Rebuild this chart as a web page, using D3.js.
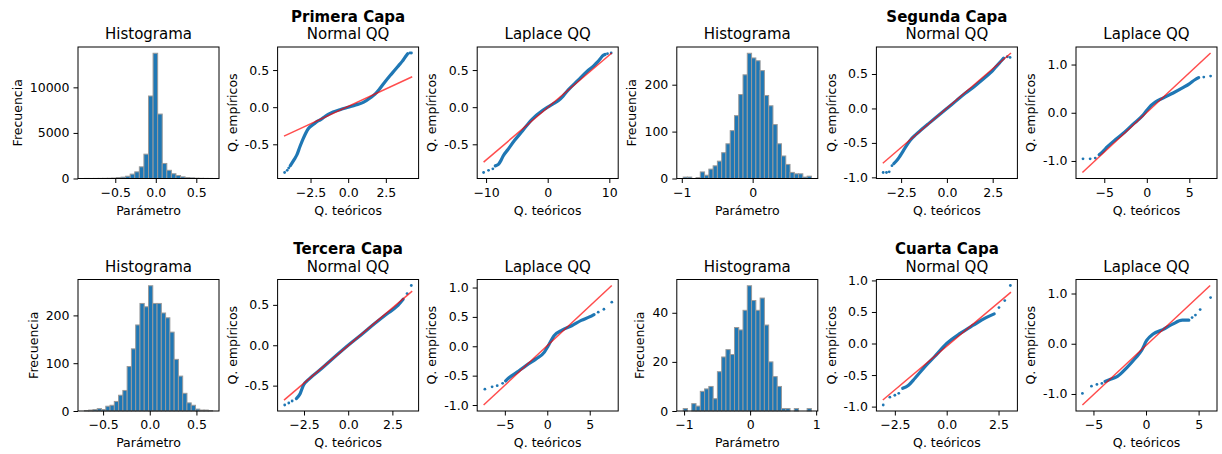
<!DOCTYPE html>
<html>
<head>
<meta charset="utf-8">
<title>Capas</title>
<script src="https://cdn.jsdelivr.net/npm/d3@7"></script>
<style>
  body { margin: 0; background: #fff; }
  text { font-family: "DejaVu Sans", sans-serif; fill: #000; }
</style>
</head>
<body>
<svg width="1222" height="454" id="mainSvg"></svg>
<script>
// ---- data ----
const layerNames = ["Primera Capa", "Segunda Capa", "Tercera Capa", "Cuarta Capa"];

// histograms: first bin edge, bin width, counts
const histStart = [-0.881, -0.98, -0.70, -1.013];
const histWidth = [0.0565, 0.0603, 0.04577, 0.0647];
const histCounts1 = [10, 5, 10, 15, 20, 30, 50, 100, 150, 250, 480, 730, 1280, 2670, 9050, 13740, 7070, 1650, 900, 520, 330, 180, 110, 70, 40, 25, 15, 10];
const histCounts2 = [3, 3, 0, 2, 14, 7, 20, 27, 37, 55, 74, 102, 134, 179, 221, 267, 257, 251, 230, 177, 155, 115, 74, 48, 30, 13, 10, 10, 3, 5];
const histCounts3 = [1, 2, 3, 5, 3, 10, 12, 20, 33, 43, 93, 130, 180, 225, 218, 262, 225, 225, 205, 195, 165, 108, 73, 37, 17, 12, 4, 2, 2, 1];
const histCounts4 = [1, 0, 3, 2, 8, 9, 10, 5, 16, 22, 25, 23, 34, 33, 41, 51, 45, 41, 46, 35, 20, 14, 10, 1, 1, 0, 1, 0, 0, 1];

// QQ plots: [theoretical, empirical]; "curve" = dense run of points, "dots" = isolated points
const normCurve1 = [[-3.85,-0.79],[-3.6,-0.71],[-3.4,-0.64],[-3.2,-0.53],[-3.0,-0.43],[-2.65,-0.29],[-2.3,-0.23],[-2.0,-0.185],[-1.8,-0.165],[-1.5,-0.12],[-1.0,-0.065],[-0.5,-0.03],[0,0],[0.5,0.03],[1.0,0.065],[1.5,0.13],[1.8,0.18],[2.1,0.25],[2.4,0.33],[2.8,0.43],[3.1,0.5],[3.35,0.56],[3.6,0.62],[3.8,0.68],[3.95,0.72]];
const normDots1 = [[-4.22,-0.88],[-4.05,-0.85],[-3.95,-0.82],[4.1,0.73],[4.2,0.73]];
const normFit1 = [[-4.26,-0.39],[4.25,0.41]];

const lapCurve1 = [[-8.5,-0.79],[-8.0,-0.77],[-7.6,-0.72],[-7.25,-0.66],[-6.45,-0.57],[-5.4,-0.45],[-4.1,-0.32],[-2.5,-0.16],[-0.9,-0.05],[0,0],[1.0,0.05],[1.75,0.09],[2.5,0.15],[3.3,0.23],[4.9,0.36],[6.5,0.49],[7.5,0.56],[8.1,0.61],[8.6,0.66],[8.9,0.69],[9.3,0.71]];
const lapDots1 = [[-10.4,-0.88],[-9.6,-0.85],[-8.9,-0.83],[9.7,0.72],[10.3,0.73]];
const lapFit1 = [[-10.4,-0.74],[10.4,0.73]];

const normCurve2 = [[-2.9,-0.80],[-2.75,-0.76],[-2.56,-0.69],[-2.3,-0.58],[-2.0,-0.46],[-1.7,-0.38],[-1.4,-0.31],[-1.0,-0.22],[-0.5,-0.11],[0,0],[0.5,0.11],[1.0,0.22],[1.5,0.32],[2.0,0.43],[2.3,0.5],[2.5,0.55],[2.7,0.61],[2.9,0.67],[3.1,0.73]];
const normDots2 = [[-3.48,-0.93],[-3.3,-0.93],[-3.15,-0.92],[-3.0,-0.83],[3.3,0.75],[3.45,0.74]];
const normFit2 = [[-3.5,-0.795],[3.5,0.805]];

const lapCurve2 = [[-5.6,-0.87],[-5.15,-0.80],[-4.66,-0.71],[-3.7,-0.56],[-2.58,-0.40],[-1.44,-0.21],[-0.5,-0.06],[0,0.05],[0.5,0.15],[1.0,0.22],[1.97,0.31],[3.1,0.41],[4.24,0.52],[5.0,0.60],[5.7,0.69],[6.1,0.73]];
const lapDots2 = [[-7.5,-0.955],[-6.66,-0.955],[-6.06,-0.94],[6.7,0.74],[7.5,0.76]];
const lapFit2 = [[-7.57,-1.24],[7.5,1.24]];

const normCurve3 = [[-2.93,-0.66],[-2.72,-0.6],[-2.54,-0.5],[-2.17,-0.41],[-1.62,-0.31],[-0.9,-0.17],[0,0],[0.74,0.13],[1.48,0.265],[2.2,0.39],[2.75,0.48],[3.11,0.57]];
const normDots3 = [[-3.59,-0.74],[-3.36,-0.715],[-3.17,-0.69],[3.33,0.64],[3.57,0.74]];
const normFit3 = [[-3.63,-0.68],[3.62,0.67]];

const lapCurve3 = [[-4.9,-0.59],[-4.7,-0.56],[-3.56,-0.44],[-2.42,-0.32],[-1.28,-0.21],[-0.34,-0.10],[0,-0.02],[0.23,0.04],[0.8,0.18],[1.74,0.275],[2.88,0.35],[4.0,0.44],[4.97,0.50],[5.5,0.54]];
const lapDots3 = [[-7.35,-0.73],[-6.5,-0.69],[-5.9,-0.67],[-5.26,-0.63],[6.0,0.58],[6.67,0.63],[7.6,0.75]];
const lapFit3 = [[-7.5,-1.0],[7.6,1.035]];

const normCurve4 = [[-2.12,-0.71],[-1.84,-0.66],[-1.53,-0.55],[-1.06,-0.37],[-0.59,-0.21],[0,0],[0.65,0.16],[1.28,0.29],[1.9,0.41],[2.29,0.47]];
const normDots4 = [[-3.06,-0.975],[-2.74,-0.85],[-2.5,-0.82],[-2.31,-0.79],[2.52,0.57],[2.8,0.68],[3.07,0.92]];
const normFit4 = [[-3.08,-0.895],[3.1,0.815]];

const lapCurve4 = [[-3.9,-0.75],[-3.49,-0.715],[-2.72,-0.65],[-1.8,-0.47],[-1.02,-0.29],[-0.41,-0.13],[0.06,0.065],[0.68,0.195],[1.6,0.28],[2.53,0.39],[3.45,0.47],[4.07,0.47]];
const lapDots4 = [[-6.05,-0.99],[-5.19,-0.845],[-4.67,-0.81],[-4.2,-0.79],[4.38,0.52],[4.7,0.57],[5.15,0.68],[6.14,0.92]];
const lapFit4 = [[-6.05,-1.22],[6.1,1.16]];

// tick values
const histXTicks = [[-0.5, 0, 0.5], [-1, 0], [-0.5, 0, 0.5], [-1, 0, 1]];
const histYTicks = [[0, 5000, 10000], [0, 100, 200], [0, 100, 200], [0, 20, 40]];
const normXTicks = [-2.5, 0, 2.5];
const normYTicks = [[-0.5, 0, 0.5], [-1, -0.5, 0, 0.5], [-0.5, 0, 0.5], [-1, -0.5, 0, 0.5, 1]];
const lapXTicks = [[-10, 0, 10], [-5, 0, 5], [-5, 0, 5], [-5, 0, 5]];
const lapYTicks = [[-0.5, 0, 0.5], [-1, 0, 1], [-1, -0.5, 0, 0.5, 1], [-1, 0, 1]];

// ---- layout ----
const mainSvg = d3.select("#mainSvg");
const axLeft0 = 78, axStep = 199.6, axW = 141, axH = 131.5;
const rowTop = [47, 279.5];
const blue = "#1f77b4";
const hyphen = d3.formatLocale({decimal: ".", thousands: ",", grouping: [3], currency: ["", ""], minus: "-"});

const hists = [histCounts1, histCounts2, histCounts3, histCounts4];
const qq = [
  [normCurve1, normDots1, normFit1, lapCurve1, lapDots1, lapFit1],
  [normCurve2, normDots2, normFit2, lapCurve2, lapDots2, lapFit2],
  [normCurve3, normDots3, normFit3, lapCurve3, lapDots3, lapFit3],
  [normCurve4, normDots4, normFit4, lapCurve4, lapDots4, lapFit4]
];

function pad(ext) {
  const d = (ext[1] - ext[0]) * 0.05;
  return [ext[0] - d, ext[1] + d];
}

function panel(row, col) {
  const left = axLeft0 + col * axStep, top = rowTop[row];
  const g = mainSvg.append("g").attr("transform", `translate(${left},${top})`);
  return g;
}

function axes(g, x, y, xt, xf, yt, yf, xlabel, ylabel) {
  const xa = g.append("g").attr("transform", `translate(0,${axH})`)
    .call(d3.axisBottom(x).tickValues(xt).tickFormat(xf).tickSize(4.5).tickPadding(5).tickSizeOuter(0));
  const ya = g.append("g")
    .call(d3.axisLeft(y).tickValues(yt).tickFormat(yf).tickSize(4.5).tickPadding(4).tickSizeOuter(0));
  [xa, ya].forEach(a => {
    a.attr("font-family", null).attr("font-size", null);
    a.select(".domain").remove();
    a.selectAll("line").attr("stroke", "#000").attr("stroke-width", 1);
    a.selectAll("text").style("font-size", "12.5px");
  });
  g.append("rect").attr("x", 0).attr("y", 0).attr("width", axW).attr("height", axH)
    .attr("fill", "none").attr("stroke", "#000").attr("stroke-width", 1);
  g.append("text").attr("x", axW / 2).attr("y", axH + 36).attr("text-anchor", "middle")
    .style("font-size", "12.5px").text(xlabel);
  const bb = ya.node().getBBox();
  g.append("text").attr("transform", `translate(${bb.x - 8},${axH / 2}) rotate(-90)`)
    .attr("text-anchor", "middle").style("font-size", "12.5px").text(ylabel);
}

function title(g, txt, sup) {
  g.append("text").attr("x", axW / 2).attr("y", -8).attr("text-anchor", "middle")
    .style("font-size", "15px").text(txt);
  if (sup) g.append("text").attr("x", axW / 2).attr("y", -25.5).attr("text-anchor", "middle")
    .style("font-size", "15px").style("font-weight", "bold").text(sup);
}

function drawHist(row, col, k) {
  const g = panel(row, col);
  const counts = hists[k], w = histWidth[k], s = histStart[k];
  const x = d3.scaleLinear().domain(pad([s, s + counts.length * w])).range([0, axW]);
  const y = d3.scaleLinear().domain([0, d3.max(counts) * 1.05]).range([axH, 0]);
  g.append("g").selectAll("rect").data(counts).join("rect")
    .attr("x", (d, i) => x(s + i * w))
    .attr("width", x(s + w) - x(s))
    .attr("y", d => y(d))
    .attr("height", d => axH - y(d))
    .attr("fill", blue).attr("stroke", "#9a9a9a").attr("stroke-width", 1);
  const xf = histXTicks[k].some(v => v % 1 !== 0) ? d3.format(".1f") : d3.format("d");
  axes(g, x, y, histXTicks[k], xf, histYTicks[k], d3.format("d"), "Parámetro", "Frecuencia");
  title(g, "Histograma");
}

function drawQQ(row, col, curve, dots, fit, xt, yt, xf, name, sup) {
  const g = panel(row, col);
  const all = curve.concat(dots, fit);
  const x = d3.scaleLinear().domain(pad(d3.extent(all, d => d[0]))).range([0, axW]);
  const y = d3.scaleLinear().domain(pad(d3.extent(all, d => d[1]))).range([axH, 0]);
  const line = d3.line().x(d => x(d[0])).y(d => y(d[1])).curve(d3.curveMonotoneX);
  g.append("path").datum(curve).attr("d", line).attr("fill", "none")
    .attr("stroke", blue).attr("stroke-width", 3.2).attr("stroke-linecap", "round");
  g.append("g").selectAll("circle").data(dots).join("circle")
    .attr("cx", d => x(d[0])).attr("cy", d => y(d[1])).attr("r", 1.4).attr("fill", blue);
  g.append("path").datum(fit).attr("d", d3.line().x(d => x(d[0])).y(d => y(d[1])))
    .attr("stroke", "red").attr("stroke-opacity", 0.7).attr("stroke-width", 1.5);
  axes(g, x, y, xt, xf, yt, hyphen.format(".1f"), "Q. teóricos", "Q. empíricos");
  title(g, name, sup);
}

for (let k = 0; k < 4; k++) {
  const row = Math.floor(k / 2), c0 = (k % 2) * 3;
  const [nc, nd, nf, lc, ld, lf] = qq[k];
  drawHist(row, c0, k);
  drawQQ(row, c0 + 1, nc, nd, nf, normXTicks, normYTicks[k], d3.format(".1f"), "Normal QQ", layerNames[k]);
  drawQQ(row, c0 + 2, lc, ld, lf, lapXTicks[k], lapYTicks[k], d3.format("d"), "Laplace QQ");
}
</script>
</body>
</html>
